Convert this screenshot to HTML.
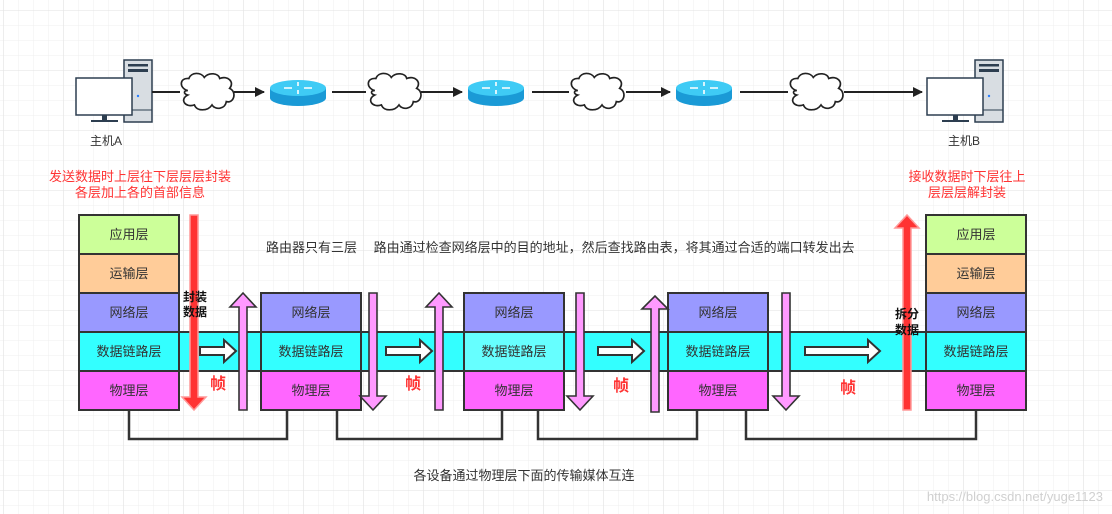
<!DOCTYPE html>
<html><head><meta charset="utf-8"><style>
html,body{margin:0;padding:0;background:#fff;}
svg{display:block;font-family:"Liberation Sans","Noto Sans CJK SC",sans-serif;}
</style></head><body>
<svg width="1112" height="514" viewBox="0 0 1112 514" xmlns="http://www.w3.org/2000/svg">
<defs>
<pattern id="gmin" x="3.3" y="10" width="15" height="15" patternUnits="userSpaceOnUse">
<path d="M0 0V15M0 0H15" stroke="#efefef" stroke-width="1" fill="none"/>
</pattern>
<pattern id="gmaj" x="3.3" y="10" width="60" height="60" patternUnits="userSpaceOnUse">
<path d="M0 0V60M0 0H60" stroke="#e2e2e2" stroke-width="1" fill="none"/>
</pattern>
<g id="cloud">
<path d="M8 16 C0 14 0 4 9 5 C11 -1 20 -1 23 4 C27 -1 36 0 37 5 C44 2 51 8 46 14 C53 17 50 28 43 26 C42 33 33 34 30 29 C26 35 16 35 14 29 C6 32 0 24 8 20 C4 19 4 16 8 16 Z" fill="#fff" stroke="#222" stroke-width="1.5"/>
</g>
<g id="router">
<path d="M0 7 V17 A28 8 0 0 0 56 17 V7 Z" fill="#1a9ad6"/>
<ellipse cx="28" cy="7" rx="28" ry="8" fill="#3fcbf5"/>
<path d="M14 7h8M42 7h-8M28 1v4M28 9v4" stroke="#fff" stroke-width="1.6"/>
</g>
<g id="pc">
<rect x="48" y="0" width="28" height="62" fill="#d8dde2" stroke="#2d3e50" stroke-width="1.5"/>
<rect x="52" y="4" width="20" height="2.5" fill="#2d3e50"/>
<rect x="52" y="9" width="20" height="3" fill="#2d3e50"/>
<line x1="48" y1="50" x2="76" y2="50" stroke="#2d3e50"/>
<circle cx="62" cy="36" r="1.2" fill="#2a7fff"/>
<rect x="0" y="18" width="56" height="37" fill="#fff" stroke="#2d3e50" stroke-width="1.5"/>
<rect x="26" y="55" width="5" height="5" fill="#2d3e50"/>
<rect x="15" y="60" width="27" height="2" fill="#2d3e50"/>
</g>
<marker id="ah" markerWidth="10" markerHeight="10" refX="9" refY="5" orient="auto" markerUnits="userSpaceOnUse">
<path d="M0 0L10 5L0 10Z" fill="#222"/>
</marker>
</defs>
<rect width="1112" height="514" fill="#fff"/>
<rect width="1112" height="514" fill="url(#gmin)"/>
<rect width="1112" height="514" fill="url(#gmaj)"/>

<use href="#pc" x="76" y="60"/>
<use href="#pc" x="927" y="60"/>
<g stroke="#222" stroke-width="2" fill="none">
<line x1="152" y1="92" x2="180" y2="92"/>
<line x1="234" y1="92" x2="264" y2="92" marker-end="url(#ah)"/>
<line x1="332" y1="92" x2="366" y2="92"/>
<line x1="421" y1="92" x2="462" y2="92" marker-end="url(#ah)"/>
<line x1="532" y1="92" x2="569" y2="92"/>
<line x1="626" y1="92" x2="670" y2="92" marker-end="url(#ah)"/>
<line x1="740" y1="92" x2="788" y2="92"/>
<line x1="844" y1="92" x2="922" y2="92" marker-end="url(#ah)"/>
</g>
<use href="#cloud" transform="translate(179,73) scale(1.1)"/>
<use href="#cloud" transform="translate(366,73) scale(1.1)"/>
<use href="#cloud" transform="translate(569,73) scale(1.1)"/>
<use href="#cloud" transform="translate(788,73) scale(1.1)"/>
<use href="#router" x="270" y="81"/>
<use href="#router" x="468" y="81"/>
<use href="#router" x="676" y="81"/>
<g font-size="12" fill="#333" text-anchor="middle">
<text x="106" y="145">主机A</text>
<text x="964" y="145">主机B</text>
</g>
<g font-size="13" fill="#ff3333" text-anchor="middle">
<text x="140" y="181">发送数据时上层往下层层层封装</text>
<text x="140" y="197">各层加上各的首部信息</text>
<text x="967" y="181">接收数据时下层往上</text>
<text x="967" y="197">层层层解封装</text>
</g>
<text x="266" y="252" font-size="13" fill="#333">路由器只有三层　 路由通过检查网络层中的目的地址，然后查找路由表，将其通过合适的端口转发出去</text>

<rect x="179" y="332" width="747" height="39" fill="#33ffff" stroke="#333" stroke-width="2"/>

<g stroke="#333" stroke-width="2">
<rect x="79" y="215" width="100" height="39" fill="#ccff99"/>
<rect x="79" y="254" width="100" height="39" fill="#ffcc99"/>
<rect x="79" y="293" width="100" height="39" fill="#9999ff"/>
<rect x="79" y="332" width="100" height="39" fill="#33ffff"/>
<rect x="79" y="371" width="100" height="39" fill="#ff66ff"/>
<rect x="926" y="215" width="100" height="39" fill="#ccff99"/>
<rect x="926" y="254" width="100" height="39" fill="#ffcc99"/>
<rect x="926" y="293" width="100" height="39" fill="#9999ff"/>
<rect x="926" y="332" width="100" height="39" fill="#33ffff"/>
<rect x="926" y="371" width="100" height="39" fill="#ff66ff"/>
<rect x="261" y="293" width="100" height="39" fill="#9999ff"/>
<rect x="261" y="332" width="100" height="39" fill="#33ffff"/>
<rect x="261" y="371" width="100" height="39" fill="#ff66ff"/>
<rect x="464" y="293" width="100" height="39" fill="#9999ff"/>
<rect x="464" y="332" width="100" height="39" fill="#66ffff"/>
<rect x="464" y="371" width="100" height="39" fill="#ff66ff"/>
<rect x="668" y="293" width="100" height="39" fill="#9999ff"/>
<rect x="668" y="332" width="100" height="39" fill="#33ffff"/>
<rect x="668" y="371" width="100" height="39" fill="#ff66ff"/>
</g>
<g font-size="13" fill="#333" text-anchor="middle">
<text x="129" y="239">应用层</text><text x="129" y="278">运输层</text><text x="129" y="317">网络层</text><text x="129" y="356">数据链路层</text><text x="129" y="395">物理层</text>
<text x="976" y="239">应用层</text><text x="976" y="278">运输层</text><text x="976" y="317">网络层</text><text x="976" y="356">数据链路层</text><text x="976" y="395">物理层</text>
<text x="311" y="317">网络层</text><text x="311" y="356">数据链路层</text><text x="311" y="395">物理层</text>
<text x="514" y="317">网络层</text><text x="514" y="356">数据链路层</text><text x="514" y="395">物理层</text>
<text x="718" y="317">网络层</text><text x="718" y="356">数据链路层</text><text x="718" y="395">物理层</text>
</g>

<g stroke="#333" stroke-width="2.5" fill="none">
<path d="M129 410V439H287V410"/>
<path d="M337 410V439H502V410"/>
<path d="M538 410V439H697V410"/>
<path d="M746 410V439H976V410"/>
</g>

<g fill="#fff" stroke="#333" stroke-width="2">
<path d="M200 347H224V340L236 351L224 362V355H200Z"/>
<path d="M386 347H420V340L432 351L420 362V355H386Z"/>
<path d="M598 347H632V340L644 351L632 362V355H598Z"/>
<path d="M805 347H868V340L880 351L868 362V355H805Z"/>
</g>

<g fill="#ff99ff" stroke="#333" stroke-width="1.6">
<path d="M239 410V307H230L243 293L256 307H247V410Z"/>
<path d="M369 293V396H360L373 410L386 396H377V293Z"/>
<path d="M435 410V307H426L439 293L452 307H443V410Z"/>
<path d="M576 293V396H567L580 410L593 396H584V293Z"/>
<path d="M651 412V309H642L655 296L668 309H659V412Z"/>
<path d="M782 293V396H773L786 410L799 396H790V293Z"/>
</g>

<g fill="#ff3333" stroke="#ff9999" stroke-width="1.5">
<path d="M190 215V397H182L194 410L206 397H198V215Z"/>
<path d="M903 410V228H895L907 215L919 228H911V410Z"/>
</g>

<g font-size="12" font-weight="bold" fill="#111" text-anchor="middle">
<text x="195" y="301">封装</text><text x="195" y="316">数据</text>
<text x="907" y="318">拆分</text><text x="907" y="334">数据</text>
</g>
<g font-size="16" font-weight="bold" fill="#ff3333" text-anchor="middle">
<text x="218" y="389">帧</text>
<text x="413" y="389">帧</text>
<text x="621" y="391">帧</text>
<text x="848" y="393">帧</text>
</g>
<text x="524" y="480" font-size="13" fill="#333" text-anchor="middle">各设备通过物理层下面的传输媒体互连</text>
<text x="1103" y="501" font-size="13" fill="#d0d0d0" text-anchor="end">https://blog.csdn.net/yuge1123</text>
</svg>
</body></html>
